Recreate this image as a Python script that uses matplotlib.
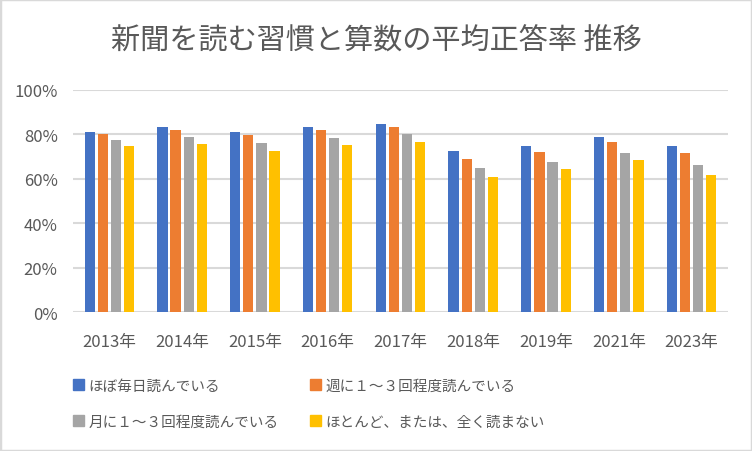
import matplotlib
matplotlib.use("Agg")
import matplotlib.pyplot as plt
import numpy as np
from matplotlib.patches import Patch, Rectangle
from matplotlib.ticker import PercentFormatter

plt.rcParams['font.family'] = ['Noto Sans CJK JP', 'DejaVu Sans']

# data
years = ['2013年', '2014年', '2015年', '2016年', '2017年', '2018年', '2019年', '2021年', '2023年']
series_names = ['ほぼ毎日読んでいる', '週に１～３回程度読んでいる',
                '月に１～３回程度読んでいる', 'ほとんど、または、全く読まない']
daily = [0.810, 0.832, 0.810, 0.832, 0.846, 0.724, 0.747, 0.787, 0.747]
weekly = [0.800, 0.819, 0.796, 0.819, 0.832, 0.689, 0.720, 0.765, 0.715]
monthly = [0.774, 0.787, 0.760, 0.783, 0.800, 0.648, 0.675, 0.715, 0.661]
rarely = [0.747, 0.756, 0.724, 0.750, 0.765, 0.608, 0.644, 0.684, 0.617]

colors = ['#4472C4', '#ED7D31', '#A5A5A5', '#FFC000']
text_col = '#595959'

fig = plt.figure(figsize=(7.52, 4.52), dpi=100)
ax = fig.add_axes([0.097, 0.307, 0.871, 0.492])

x = np.arange(len(years))
width = 0.14
step = 0.18
for i, (vals, name) in enumerate(zip([daily, weekly, monthly, rarely], series_names)):
    ax.bar(x + (i - 1.5) * step, vals, width, color=colors[i], label=name, zorder=3)

ax.set_ylim(0, 1.0)
ax.set_xlim(-0.5, len(years) - 0.5)
ax.set_yticks(np.arange(0, 1.01, 0.2))
ax.yaxis.set_major_formatter(PercentFormatter(1.0, decimals=0))
ax.grid(axis='y', color='#D9D9D9', linewidth=1.5, zorder=0)
for s in ax.spines.values():
    s.set_visible(False)
ax.tick_params(length=0, colors=text_col, labelsize=12)
ax.tick_params(axis='y', pad=11)
ax.tick_params(axis='x', pad=15)
ax.set_xticks(x)
ax.set_xticklabels(years)

fig.text(0.5, 0.907, '新聞を読む習慣と算数の平均正答率 推移', ha='center', va='center',
         fontsize=21, color=text_col)

# legend is filled column by column, so reorder to get the reference's row layout
order = [0, 2, 1, 3]
handles = [Patch(color=colors[i]) for i in order]
labels = [series_names[i] for i in order]
fig.legend(handles, labels, loc='upper left', bbox_to_anchor=(0.097, 0.16),
           ncol=2, frameon=False, fontsize=10.5, labelcolor=text_col,
           handlelength=0.75, handleheight=0.75, handletextpad=0.3,
           columnspacing=2.2, labelspacing=1.5, borderaxespad=0, borderpad=0)

fig.patches.append(Rectangle((0, 0), 1, 1, transform=fig.transFigure, fill=False,
                             edgecolor='#D9D9D9', linewidth=2.5))

fig.savefig('out.png', dpi=100)
